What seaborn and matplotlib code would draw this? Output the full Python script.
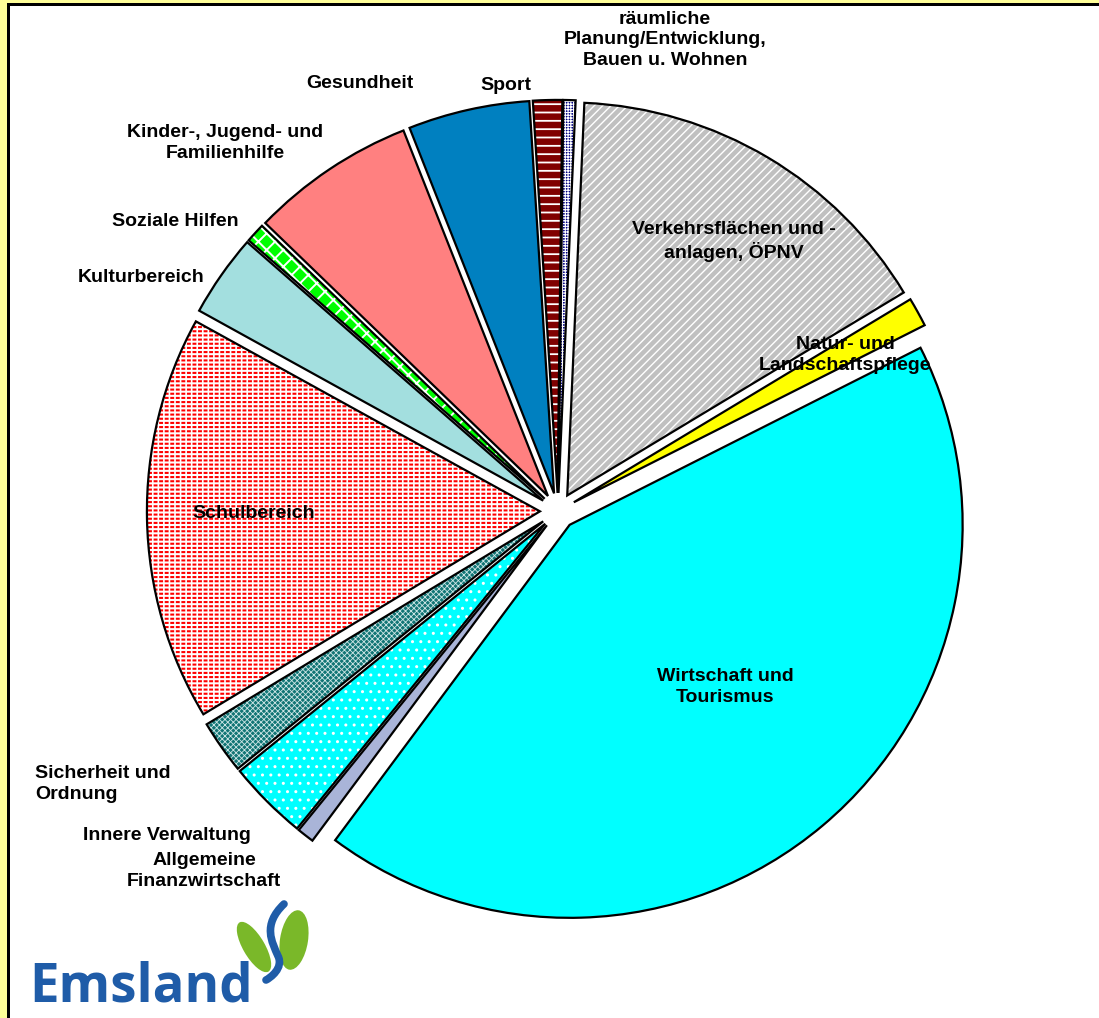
import numpy as np
import pandas as pd
import matplotlib
matplotlib.use("Agg")
import matplotlib.pyplot as plt
import seaborn as sns
from matplotlib.patches import Wedge, Rectangle, Ellipse, PathPatch
from matplotlib.path import Path

# ---------------- data (clockwise from the top) ----------------
categories = [
    "Verkehrsflächen und -\nanlagen, ÖPNV",
    "Natur- und\nLandschaftspflege",
    "Wirtschaft und\nTourismus",
    "Allgemeine\nFinanzwirtschaft",
    "Innere Verwaltung",
    "Sicherheit und\nOrdnung",
    "Schulbereich",
    "Kulturbereich",
    "Soziale Hilfen",
    "Kinder-, Jugend- und\nFamilienhilfe",
    "Gesundheit",
    "Sport",
    "räumliche\nPlanung/Entwicklung,\nBauen u. Wohnen",
]
shares = [15.7, 1.2, 42.7, 0.7, 3.3, 2.2, 16.7, 3.4, 0.8, 6.8, 5.0, 1.2, 0.5]

face_colors = ["#C0C0C0", "#FFFF00", "#00FFFF", "#A9B4D8", "#00FFFF", "#117575",
               "#FFFFFF", "#A3DFDF", "#00FF00", "#FF8080", "#0080C0", "#800000", "#000080"]
hatches = ["////", None, None, None, "..", "xxxxxx", "----", None, "xx", None, None, "--", "++++++"]
hatch_colors = ["white", None, None, None, "white", "#CFE6E6", "#FF0000", None, "white", None,
                None, "white", "white"]
hatch_lw = [1.0, 1, 1, 1, 1.0, 0.6, 1.5, 1, 1.4, 1, 1, 1.3, 0.8]

# label layout (pixel centres in the 1099x1018 picture) and alignment
label_pos = [(734, 241), (845, 355), (725, 687), (204, 871), (167, 836), (35, 784),
             (254, 514), (141, 278), (175, 221), (225, 143), (360, 83), (506, 85), (665, 40)]
label_ha = ["center", "center", "center", "center", "center", "left", "center",
            "center", "center", "center", "center", "center", "center"]

df = pd.DataFrame({"category": categories, "share": shares})

# ---------------- figure ----------------
sns.set_theme(style="white")
plt.rcParams["font.family"] = ["Liberation Sans", "DejaVu Sans"]

W, H = 1099, 1018
fig = plt.figure(figsize=(W / 100, H / 100), dpi=100)
fig.patch.set_facecolor("white")

ax = fig.add_axes([0, 0, 1, 1])
R = 393.0
cx, cy = 558.0, 511.0

wedges, _ = ax.pie(df["share"], startangle=87.5, counterclock=False,
                   explode=[0.046] * len(shares), radius=1.0,
                   wedgeprops=dict(linewidth=0))

for i, w in enumerate(wedges):
    w.set_facecolor(face_colors[i])
    if hatches[i]:
        w.set_hatch(hatches[i])
        w.set_edgecolor(hatch_colors[i])
        if hasattr(w, "set_hatch_linewidth"):
            w.set_hatch_linewidth(hatch_lw[i])
    else:
        w.set_edgecolor(face_colors[i])
    w.set_linewidth(0)
    w.set_zorder(1)

# break the red lines of the Schulbereich slice into dashes
sw = wedges[6]
brk = Wedge(sw.center, sw.r, sw.theta1, sw.theta2, facecolor="none", edgecolor="white",
            hatch="|||", linewidth=0, zorder=1.5)
if hasattr(brk, "set_hatch_linewidth"):
    brk.set_hatch_linewidth(1.2)
ax.add_patch(brk)

# black outlines
for w in wedges:
    ax.add_patch(Wedge(w.center, w.r, w.theta1, w.theta2, fill=False,
                       edgecolor="black", linewidth=1.6, joinstyle="miter", zorder=2))

ax.set_aspect("auto")
ax.set_xlim(-cx / R, (W - cx) / R)
ax.set_ylim(-(H - cy) / R, cy / R)
ax.axis("off")

# labels
for txt, (px, py), ha in zip(categories, label_pos, label_ha):
    fig.text(px / W, 1 - py / H, txt, ha=ha, va="center",
             multialignment=ha, fontsize=14, fontweight="bold", color="black",
             linespacing=1.25, zorder=5)

# frame: yellow band with black line on the left and top
fig.patches.append(Rectangle((0, 0), 7 / W, 1, transform=fig.transFigure,
                             facecolor="#FFFF99", edgecolor="none", zorder=0))
fig.patches.append(Rectangle((0, 1 - 3 / H), 1, 3 / H, transform=fig.transFigure,
                             facecolor="#FFFF99", edgecolor="none", zorder=0))
fig.patches.append(Rectangle((7 / W, 0), 2.5 / W, 1 - 3 / H, transform=fig.transFigure,
                             facecolor="black", edgecolor="none", zorder=0))
fig.patches.append(Rectangle((7 / W, 1 - 5.5 / H), 1, 2.5 / H, transform=fig.transFigure,
                             facecolor="black", edgecolor="none", zorder=0))

# Emsland logo
fig.text(29 / W, 1 - 1002 / H, "Emsland", ha="left", va="baseline", fontsize=38,
         fontweight="bold", family=["Open Sans", "DejaVu Sans"], color="#1F5CA8")

def px2fig(x, y):
    return (x / W, 1 - y / H)

leaf1 = Ellipse(px2fig(254, 947), 22 / W, 56 / H, angle=28, transform=fig.transFigure,
                facecolor="#7AB829", edgecolor="none")
leaf2 = Ellipse(px2fig(294, 940), 28 / W, 60 / H, angle=-8, transform=fig.transFigure,
                facecolor="#7AB829", edgecolor="none")
fig.patches.extend([leaf1, leaf2])
verts = [px2fig(284, 904), px2fig(262, 925), px2fig(272, 942), px2fig(278, 956),
         px2fig(284, 968), px2fig(270, 978), px2fig(266, 980)]
codes = [Path.MOVETO, Path.CURVE4, Path.CURVE4, Path.CURVE4, Path.CURVE4, Path.CURVE4, Path.CURVE4]
sline = PathPatch(Path(verts, codes), transform=fig.transFigure, facecolor="none",
                  edgecolor="#1F5CA8", linewidth=5.5, capstyle="round")
fig.patches.append(sline)

fig.savefig("out.png", dpi=100)
